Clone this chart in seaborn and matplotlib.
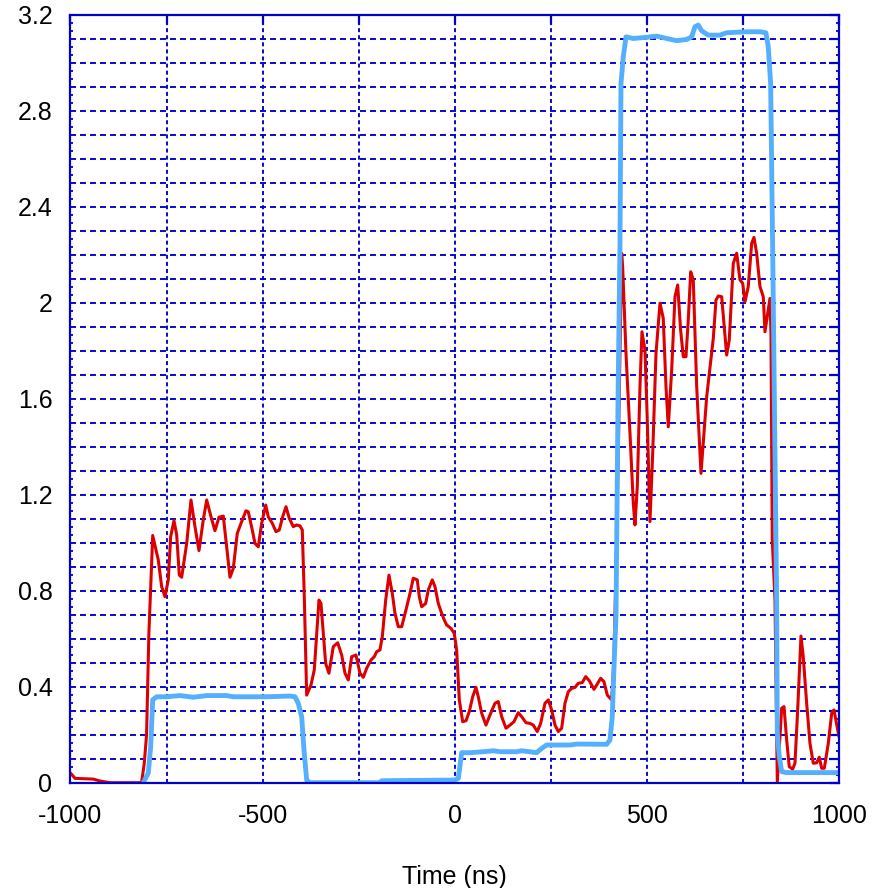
import numpy as np
import pandas as pd
import matplotlib
matplotlib.use("Agg")
import matplotlib.pyplot as plt
import seaborn as sns
from matplotlib.ticker import MultipleLocator, FixedLocator

# Measured trace (red): time in ns, value
red_t = [-1000, -988, -941, -923, -897, -815, -808, -802, -796, -786,
         -771.5, -762.7, -754, -745.5, -739.3, -730.6, -723.6, -716.8, -710.6, -697.6,
         -686.4, -676, -665.6, -654.4, -645.5, -634.3, -624, -613.5, -602.3, -593.5,
         -584.9, -576.3, -565.9, -554.5, -543.3, -537.3, -526.9, -519.8, -511.2, -502.4,
         -492, -485.2, -474.8, -465.2, -456.6, -447.8, -439.1, -430.6, -420.2, -411.3,
         -402.7, -396.7, -391.5, -385.3, -374.1, -365.5, -353.3, -348.1, -335.9, -327.3,
         -316.1, -304.6, -294.2, -285.6, -277, -268.2, -257, -246.6, -238, -229.1,
         -218, -209.4, -203.1, -194.6, -188.5, -179.7, -171.1, -162.5, -155.5, -146.9,
         -138, -126.9, -116.4, -107.9, -97.5, -92.2, -86, -75.6, -68.8, -58.4,
         -51.4, -42.8, -34, -27.2, -20.9, -9.8, -1.2, 5, 11.9, 20.7,
         29.3, 37.9, 46.7, 55.3, 61.3, 70.2, 81.3, 91.8, 104.7, 113.3,
         122.2, 133.4, 143.8, 154.2, 165.4, 174.2, 185.4, 195.8, 204.4, 214.8,
         223.6, 234.9, 243.5, 252.3, 260.9, 269.5, 278.3, 286.9, 295.5, 304.4,
         313, 321.5, 331.9, 340.8, 350.2, 362.4, 369.4, 379.8, 388.4, 397,
         408.5, 414, 420, 427, 434.4, 437, 445.7, 456.1, 464.7, 469.1,
         475.1, 482.1, 487.3, 495.1, 501.1, 508.1, 515.2, 523.8, 534.2, 542.7,
         549.8, 555.8, 564.6, 573.2, 580.2, 587.9, 594.8, 601.8, 607.8, 614.1,
         620.8, 629.7, 640.9, 655.7, 672.9, 679.9, 685.9, 694.7, 707.7, 714.5,
         724.9, 733.8, 742.3, 749.4, 755.4, 763.9, 772.8, 778.8, 785.8, 794.4,
         803, 807.4, 820.4, 823, 826.4, 833.5, 839.5, 850.8, 856.9, 863.9,
         870.6, 879.4, 885.5, 892.5, 901.1, 907, 915.9, 924.5, 933.1, 941.9,
         948.7, 955, 961.8, 972.2, 981, 987, 1000]
red_v = [0.04, 0.018, 0.015, 0.007, 0.0, 0.0, 0.08, 0.2, 0.62, 1.03,
         0.928, 0.817, 0.775, 0.845, 1.025, 1.092, 1.032, 0.865, 0.856, 0.997,
         1.178, 1.067, 0.967, 1.095, 1.178, 1.108, 1.05, 1.106, 1.111, 0.983,
         0.856, 0.893, 1.039, 1.088, 1.133, 1.129, 1.053, 0.997, 0.983, 1.081,
         1.157, 1.108, 1.081, 1.046, 1.053, 1.108, 1.15, 1.102, 1.067, 1.074,
         1.07, 1.053, 0.775, 0.365, 0.407, 0.47, 0.761, 0.747, 0.497, 0.456,
         0.567, 0.583, 0.532, 0.456, 0.428, 0.525, 0.532, 0.456, 0.439, 0.477,
         0.511, 0.525, 0.546, 0.553, 0.608, 0.761, 0.865, 0.789, 0.706, 0.65,
         0.65, 0.72, 0.789, 0.852, 0.845, 0.775, 0.733, 0.747, 0.803, 0.845,
         0.817, 0.747, 0.706, 0.678, 0.657, 0.643, 0.622, 0.553, 0.345, 0.254,
         0.258, 0.296, 0.358, 0.397, 0.358, 0.289, 0.24, 0.282, 0.331, 0.338,
         0.275, 0.227, 0.24, 0.254, 0.292, 0.275, 0.25, 0.247, 0.24, 0.213,
         0.247, 0.331, 0.345, 0.303, 0.24, 0.213, 0.227, 0.331, 0.379, 0.393,
         0.397, 0.414, 0.417, 0.442, 0.425, 0.389, 0.407, 0.435, 0.421, 0.365,
         0.345, 0.5, 0.9, 1.5, 2.206, 2.15, 1.789, 1.456, 1.164, 1.074,
         1.233, 1.65, 1.879, 1.803, 1.511, 1.088, 1.372, 1.789, 1.998, 1.935,
         1.65, 1.483, 1.72, 2.025, 2.074, 1.886, 1.775, 1.775, 1.928, 2.129,
         2.095, 1.65, 1.289, 1.608, 1.851, 2.011, 2.028, 2.025, 1.782, 1.845,
         2.164, 2.206, 2.095, 2.081, 2.004, 2.067, 2.248, 2.272, 2.206, 2.067,
         2.025, 1.879, 2.018, 1.872, 1.011, 0.761, 0.004, 0.31, 0.317, 0.178,
         0.067, 0.056, 0.081, 0.303, 0.611, 0.525, 0.331, 0.164, 0.081, 0.083,
         0.106, 0.06, 0.06, 0.164, 0.289, 0.303, 0.192]

# Reference pulse (light blue): time in ns, value
blue_t = [-810.5, -797.5, -791.3, -786, -775.7, -749.6, -715, -680.4, -645.5, -593.5,
          -576.3, -489.4, -428.8, -415.8, -407.2, -398.3, -392.3, -385.3, -376.7, -194.5,
          -190.1, 0.7, 9.3, 18.1, 39.7, 74.3, 100.3, 117.8, 161.2, 174.2,
          213.2, 226.3, 239.3, 265.3, 300, 317.4, 395.4, 404, 410, 414.5,
          419.7, 425, 430, 432.7, 438.7, 445.7, 464.7, 499.5, 525.5, 551.6,
          577.6, 603.6, 616.6, 625.2, 633.8, 642.7, 659.8, 690.3, 707.7, 759.8,
          794.4, 809.9, 815.9, 822.2, 827.4, 832.5, 837.8, 839.5, 844.7, 850.8,
          863.9, 1000]
blue_v = [0.0, 0.04, 0.15, 0.345, 0.358, 0.358, 0.363, 0.356, 0.363, 0.363,
          0.358, 0.358, 0.361, 0.358, 0.331, 0.275, 0.136, 0.011, 0.0, 0.0,
          0.008, 0.011, 0.018, 0.125, 0.125, 0.129, 0.133, 0.129, 0.129, 0.133,
          0.125, 0.143, 0.157, 0.157, 0.157, 0.161, 0.16, 0.178, 0.275, 0.483,
          0.692, 1.6, 2.233, 2.914, 3.025, 3.108, 3.101, 3.106, 3.111, 3.101,
          3.092, 3.097, 3.108, 3.15, 3.157, 3.133, 3.115, 3.115, 3.125, 3.129,
          3.129, 3.125, 3.067, 2.914, 2.233, 1.5, 0.761, 0.206, 0.108, 0.046,
          0.042, 0.042]

x_major = [-1000, -750, -500, -250, 0, 250, 500, 750, 1000]
x_labels = ["-1000", "", "-500", "", "0", "", "500", "", "1000"]
y_major = [round(0.1 * i, 1) for i in range(33)]
y_labels = [("%g" % v) if i % 4 == 0 else "" for i, v in enumerate(y_major)]

GRID = "#0000CC"
RED = "#DD0000"
LIGHT = "#55AFFF"

sns.set_theme(style="white")
plt.rcParams["font.family"] = ["Liberation Sans", "DejaVu Sans"]
plt.rcParams["lines.scale_dashes"] = False

red_df = pd.DataFrame({"t": red_t, "v": red_v})
blue_df = pd.DataFrame({"t": blue_t, "v": blue_v})

fig = plt.figure(figsize=(8.81, 8.88), dpi=100)
ax = fig.add_axes([0.080, 0.1186, 0.8723, 0.8648])

sns.lineplot(data=red_df, x="t", y="v", ax=ax, color=RED, lw=2.2,
             sort=False, estimator=None, zorder=3)
sns.lineplot(data=blue_df, x="t", y="v", ax=ax, color=LIGHT, lw=3.5,
             sort=False, estimator=None, zorder=4)

ax.set_xlim(-1000, 1000)
ax.set_ylim(0, 3.2)

ax.xaxis.set_major_locator(FixedLocator(x_major))
ax.set_xticklabels(x_labels)
ax.yaxis.set_major_locator(FixedLocator(y_major))
ax.set_yticklabels(y_labels)
ax.yaxis.set_minor_locator(MultipleLocator(0.1 / 3))

ax.grid(True, axis="y", which="major", color=GRID, lw=1.35, ls=(0, (4.3, 2.9)), zorder=1)
ax.grid(True, axis="x", which="major", color=GRID, lw=1.35, ls=(0, (2.9, 2.2)), zorder=1)

for s in ax.spines.values():
    s.set_color(GRID)
    s.set_linewidth(1.6)
    s.set_zorder(5)

ax.tick_params(axis="both", which="major", direction="in", length=7, width=1.6,
               color=GRID, top=True, right=True, labelsize=18, labelcolor="black")
ax.tick_params(axis="y", which="minor", direction="in", length=2, width=1.3,
               color=GRID, left=True, right=True)
ax.tick_params(axis="y", which="major", pad=13)
ax.tick_params(axis="x", which="major", pad=15)

ax.set_xlabel("Time (ns)", fontsize=18, color="black", labelpad=27)
ax.set_ylabel("")

fig.savefig("out.png", dpi=100, facecolor="white")
